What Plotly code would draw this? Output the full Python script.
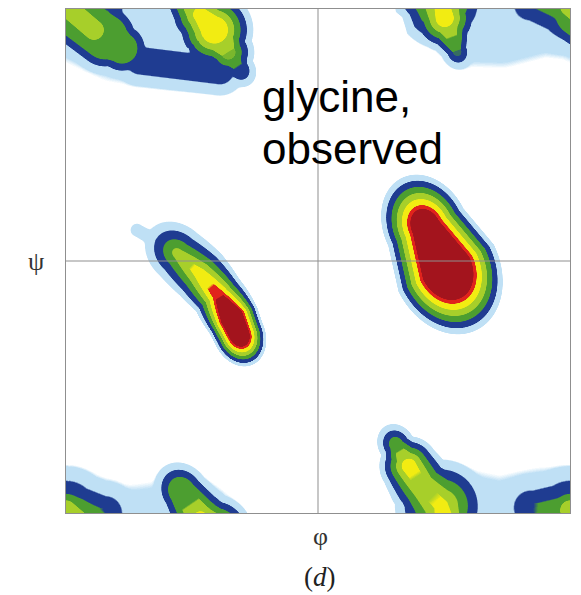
import numpy as np
import plotly.graph_objects as go

# ---------------- data ----------------
# Density ridges: vertices (phi deg, psi deg, peak contour level, ring width deg, plateau radius deg)
alpha_L = [(77.0, 24.3, 8.0, 3.5, 2.0), (91.5, -5.0, 10.0, 3.5, 3.0)]
alpha_R = [(-99.9, 5.0, 3.3, 5.5, 2.0), (-84.3, -9.3, 4.4, 4.2, 2.5), (-71.4, -24.3, 5.4, 3.0, 3.0),
           (-61.4, -40.7, 7.5, 2.0, 4.5), (-56.4, -52.1, 7.5, 2.0, 3.5)]
alpha_R_tail = [(-129.3, 22.1, 0.75, 6.0, 0.0), (-109.3, 10.7, 0.75, 6.0, 0.0)]
beta_top = [(-97.0, 195.0, 2.1, 4.5, 9.0), (-84.0, 176.0, 4.05, 4.5, 5.0), (-74.0, 165.0, 4.6, 4.5, 7.0),
            (-64.0, 149.0, 3.0, 4.5, 5.0), (-56.0, 137.0, 1.8, 4.5, 3.0)]
corner_band = [(-208.0, 184.0, 1.9, 10.0, 3.0), (-180.0, 181.0, 2.7, 10.0, 5.0),
               (-152.0, 180.0, 1.9, 10.0, 3.0)]
corner_ridge = [(-175.0, 176.0, 2.6, 5.0, 12.0), (-152.0, 160.0, 2.6, 5.0, 13.0),
                (-140.0, 152.0, 2.4, 5.0, 9.0)]
corner_core = [(-180.0, 182.0, 3.5, 4.0, 5.0), (-160.0, 165.0, 3.5, 4.0, 5.0)]
bridge = [(-127.0, 143.0, 1.6, 8.0, 5.0), (-70.0, 136.0, 1.6, 8.0, 5.0)]
beta_right = [(56.0, -131.4, 2.5, 4.0, 3.0), (65.0, -146.4, 4.3, 4.0, 4.0), (74.0, -160.0, 3.7, 5.0, 5.0),
              (88.0, -175.0, 4.15, 7.0, 4.0), (90.5, -186.4, 4.35, 4.3, 5.0), (99.3, -210.0, 2.0, 4.0, 3.0)]
sheet = [(112, -186, 0.75, 45, 0), (130, -188, 0.75, 43, 0), (160, -181, 0.75, 42, 0),
         (183, -183, 0.75, 42, 0), (219, -197, 0.75, 45, 0), (250, -195, 0.75, 48, 0),
         (270, -190, 0.75, 43, 0)]
cap_stretch = {"alpha_L": 1.3, "alpha_R": 1.3, "alpha_R_tail": 1.0, "beta_top": 1.2,
               "corner_band": 1.0, "corner_ridge": 1.0, "corner_core": 1.0,
               "bridge": 1.0, "beta_right": 1.2, "sheet": 1.0}

level_colors = ["#ffffff", "#bfe0f5", "#1f3c91", "#4c9e30", "#a7cf2a", "#f2ec12", "#e0231c", "#a3141d"]
level_edges = [0, 1, 2, 3, 4, 5, 5.6]

label_text = ["glycine,", "observed"]
# -------------------------------------------------------------

ncell = 504
centers = -180 + (np.arange(ncell) + 0.5) * 360.0 / ncell
PH, PS = np.meshgrid(centers, centers)


def ridge_value(X, Y, verts, k):
    best = np.full(X.shape, -1e9)
    n = len(verts)
    for i in range(n - 1):
        ax, ay, pa, wa, ra = verts[i]
        bx, by, pb, wb, rb = verts[i + 1]
        dx, dy = bx - ax, by - ay
        L = np.hypot(dx, dy)
        ux, uy = dx / L, dy / L
        rx, ry = X - ax, Y - ay
        along = rx * ux + ry * uy
        perp = -rx * uy + ry * ux
        t = along / L
        tc = np.clip(t, 0, 1)
        over = (t - tc) * L
        kk = 1.0
        if i == 0 or i == n - 2:
            kk = np.ones_like(over)
            if i == 0:
                kk = np.where(t < 0, k, kk)
            if i == n - 2:
                kk = np.where(t > 1, k, kk)
        d = np.sqrt((over / kk) ** 2 + perp ** 2)
        P = pa + (pb - pa) * tc
        W = wa + (wb - wa) * tc
        R = ra + (rb - ra) * tc
        best = np.maximum(best, P - np.maximum(d - R, 0) / W)
    return best


ridges = {"alpha_L": alpha_L, "alpha_R": alpha_R, "alpha_R_tail": alpha_R_tail,
          "beta_top": beta_top, "corner_band": corner_band,
          "corner_ridge": corner_ridge, "corner_core": corner_core, "bridge": bridge,
          "beta_right": beta_right, "sheet": sheet}

tau = 0.15
acc = np.zeros(PH.shape)
for name, verts in ridges.items():
    v = np.full(PH.shape, -1e9)
    for sx in (-360, 0, 360):
        for sy in (-360, 0, 360):
            v = np.maximum(v, ridge_value(PH + sx, PS + sy, verts, cap_stretch[name]))
    acc += np.exp(np.clip(v, -40, 40) / tau)
V = tau * np.log(acc + 1e-300)
nlev = len(level_edges)
idx = np.interp(V, [-1e3] + level_edges + [1e3], [-1e3] + list(range(nlev)) + [1e3])
zmin, zmax = -0.5, nlev - 0.5
idx = np.round(np.clip(idx, zmin, zmax), 2)

# discrete colour bands with a slightly softened edge at each level
delta = 0.05
span = zmax - zmin
colorscale = [[0.0, level_colors[0]]]
for j in range(nlev):
    colorscale.append([(j - delta - zmin) / span, level_colors[j]])
    colorscale.append([(j + delta - zmin) / span, level_colors[j + 1]])
colorscale.append([1.0, level_colors[-1]])

fig = go.Figure()
fig.add_trace(go.Heatmap(
    x=centers, y=centers, z=idx, zmin=zmin, zmax=zmax, zsmooth=False,
    colorscale=colorscale, showscale=False, hoverinfo="skip",
))

gray = "#8f8f8f"
fig.add_shape(type="line", x0=0, x1=0, y0=-180, y1=180, xref="x", yref="y",
              line=dict(color=gray, width=1), layer="above")
fig.add_shape(type="line", x0=-180, x1=180, y0=0, y1=0, xref="x", yref="y",
              line=dict(color=gray, width=1), layer="above")

fig.add_annotation(text=label_text[0], xref="paper", yref="paper", x=0.385, y=0.826,
                   xanchor="left", yanchor="middle", showarrow=False,
                   font=dict(family="Liberation Sans, Arial", size=44, color="#000"))
fig.add_annotation(text=label_text[1], xref="paper", yref="paper", x=0.385, y=0.724,
                   xanchor="left", yanchor="middle", showarrow=False,
                   font=dict(family="Liberation Sans, Arial", size=44, color="#000"))
fig.add_annotation(text="ψ", xref="paper", yref="paper", x=-0.0595, y=0.50,
                   xanchor="center", yanchor="middle", showarrow=False,
                   font=dict(family="Liberation Serif, Times New Roman", size=26, color="#333"))
fig.add_annotation(text="φ", xref="paper", yref="paper", x=0.504, y=-0.046,
                   xanchor="center", yanchor="middle", showarrow=False,
                   font=dict(family="Liberation Serif, Times New Roman", size=26, color="#333"))
fig.add_annotation(text="(<i>d</i>)", xref="paper", yref="paper", x=0.504, y=-0.127,
                   xanchor="center", yanchor="middle", showarrow=False,
                   font=dict(family="Liberation Serif, Times New Roman", size=27, color="#222"))

axis_common = dict(range=[-180, 180], showticklabels=False, ticks="", showgrid=False,
                   zeroline=False, showline=True, linecolor=gray, linewidth=1, mirror=True)
fig.update_xaxes(**axis_common)
fig.update_yaxes(**axis_common)
fig.update_layout(width=581, height=595, margin=dict(l=66, r=11, t=9, b=82),
                  paper_bgcolor="white", plot_bgcolor="white", showlegend=False)

fig.write_html("out.html")
